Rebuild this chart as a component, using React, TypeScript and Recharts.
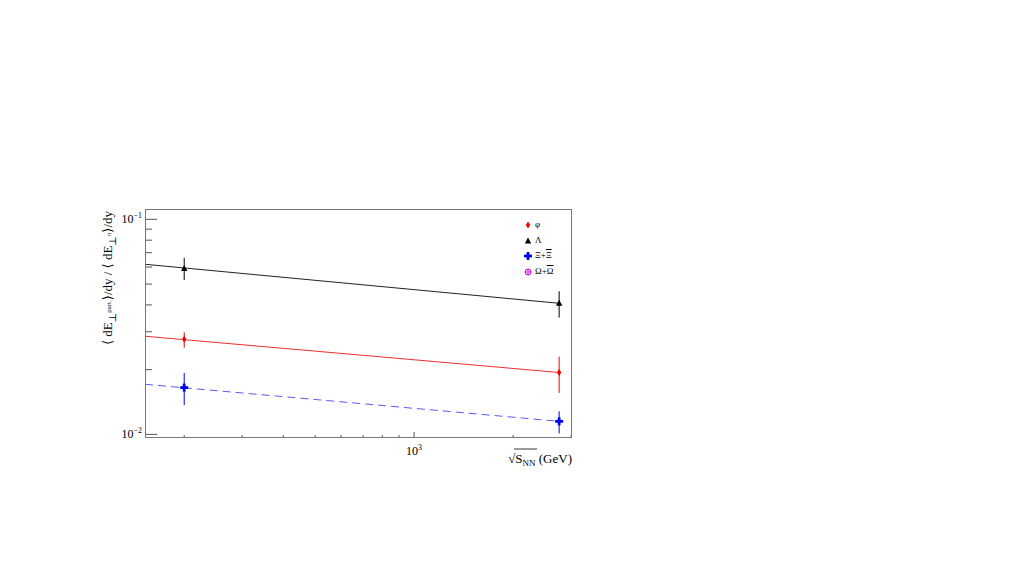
import React from "react"
import {
  ComposedChart,
  Scatter,
  XAxis,
  YAxis,
  ErrorBar,
} from "recharts"

// collision energies (GeV) of the measured points
const energies = [200, 2760]

// ratio values
const lambdaVals = [0.0591, 0.0407]
const lambdaErrUp = [0.0071, 0.0056]
const lambdaErrDown = [0.0069, 0.0058]

const phiVals = [0.0277, 0.0194]
const phiErrUp = [0.0021, 0.0036]
const phiErrDown = [0.0024, 0.0038]

const xiVals = [0.0165, 0.0115]
const xiErrUp = [0.0028, 0.0013]
const xiErrDown = [0.0028, 0.0014]

// power-law fit lines (end points)
const fitEnergies = [152, 2760]
const lambdaFit = [0.0618, 0.0407]
const phiFit = [0.0286, 0.0194]
const xiFit = [0.0171, 0.0115]

const xTicks = [200, 300, 400, 500, 600, 700, 800, 900, 1000, 2000, 3000]
const yTicks = [0.01, 0.02, 0.03, 0.04, 0.05, 0.06, 0.07, 0.08, 0.09, 0.1]

const legendItems = [
  { name: "φ", bar: "", color: "#ee0000", marker: "diamond" },
  { name: "Λ", bar: "", color: "#000000", marker: "triangle" },
  { name: "Ξ+", bar: "Ξ", color: "#0000ee", marker: "cross" },
  { name: "Ω+", bar: "Ω", color: "#dd00dd", marker: "circleplus" },
]

const points = (vals: number[], up: number[], down: number[]) =>
  energies.map((e, i) => ({ x: e, y: vals[i], err: [down[i], up[i]] }))

const fitLine = (vals: number[]) =>
  fitEnergies.map((e, i) => ({ x: e, y: vals[i] }))

const FONT = "Liberation Serif, DejaVu Serif, serif"

function Marker({ kind, cx, cy, color }: any) {
  if (kind === "diamond")
    return <polygon points={`${cx},${cy - 3.5} ${cx + 2.2},${cy} ${cx},${cy + 3.5} ${cx - 2.2},${cy}`} fill={color} />
  if (kind === "triangle")
    return <polygon points={`${cx},${cy - 3.5} ${cx + 3.2},${cy + 2.5} ${cx - 3.2},${cy + 2.5}`} fill={color} />
  if (kind === "cross")
    return (
      <g fill={color}>
        <rect x={cx - 4} y={cy - 1.4} width={8} height={2.8} />
        <rect x={cx - 1.4} y={cy - 4} width={2.8} height={8} />
      </g>
    )
  return (
    <g stroke={color} fill="none" strokeWidth={1}>
      <circle cx={cx} cy={cy} r={3} />
      <line x1={cx - 3} y1={cy} x2={cx + 3} y2={cy} />
      <line x1={cx} y1={cy - 3} x2={cx} y2={cy + 3} />
    </g>
  )
}

function XTick({ x, y, payload }: any) {
  const major = payload.value === 1000
  return (
    <g>
      <line x1={x} y1={y} x2={x} y2={y - (major ? 6 : 3)} stroke="#555" />
      {major && (
        <text x={x} y={y + 17} textAnchor="middle" fontFamily={FONT} fontSize={12} fill="#000">
          10<tspan dy={-5} fontSize={8}>3</tspan>
        </text>
      )}
    </g>
  )
}

function YTick({ x, y, payload }: any) {
  const v = payload.value
  const major = Math.abs(v - 0.1) < 1e-9 || Math.abs(v - 0.01) < 1e-9
  return (
    <g>
      <line x1={x} y1={y} x2={x + (major ? 12 : 7)} y2={y} stroke="#555" />
      {major && (
        <text x={x - 3} y={y + 4} textAnchor="end" fontFamily={FONT} fontSize={12} fill="#000">
          10<tspan dy={-5} fontSize={8}>{v > 0.05 ? "−1" : "−2"}</tspan>
        </text>
      )}
    </g>
  )
}

function LegendBox() {
  return (
    <div
      style={{
        position: "absolute",
        left: 523,
        top: 217,
        fontFamily: FONT,
        fontSize: 9,
        color: "#000",
        lineHeight: "15.7px",
      }}
    >
      {legendItems.map((item) => (
        <div key={item.name} style={{ display: "flex", alignItems: "center", height: 15.7 }}>
          <svg width={10} height={10} style={{ marginRight: 2 }}>
            <Marker kind={item.marker} cx={5} cy={5} color={item.color} />
          </svg>
          <span>
            {item.name}
            {item.bar && <span style={{ textDecoration: "overline" }}>{item.bar}</span>}
          </span>
        </div>
      ))}
    </div>
  )
}

export default function App() {
  return (
    <div style={{ position: "absolute", left: 0, top: 0, width: 1024, height: 576, background: "#fff" }}>
      <ComposedChart
        width={1024}
        height={576}
        margin={{ top: 209, right: 452, bottom: 108, left: 85 }}
      >
        <XAxis
          type="number"
          dataKey="x"
          scale="log"
          domain={[152, 3020]}
          ticks={xTicks}
          allowDataOverflow
          axisLine={false}
          tickLine={false}
          tickSize={0}
          tickMargin={0}
          height={30}
          tick={<XTick />}
          interval={0}
        />
        <YAxis
          type="number"
          dataKey="y"
          scale="log"
          domain={[0.00962, 0.1117]}
          ticks={yTicks}
          allowDataOverflow
          axisLine={false}
          tickLine={false}
          tickSize={0}
          tickMargin={0}
          width={60}
          tick={<YTick />}
          interval={0}
        />
        <Scatter data={fitLine(lambdaFit)} line={{ stroke: "#222", strokeWidth: 1 }} shape={() => null} isAnimationActive={false} legendType="none" />
        <Scatter data={fitLine(phiFit)} line={{ stroke: "#f03030", strokeWidth: 1 }} shape={() => null} isAnimationActive={false} legendType="none" />
        <Scatter data={fitLine(xiFit)} line={{ stroke: "#5a5af5", strokeWidth: 1, strokeDasharray: "8 5" }} shape={() => null} isAnimationActive={false} legendType="none" />

        <Scatter data={points(lambdaVals, lambdaErrUp, lambdaErrDown)} isAnimationActive={false} shape={(p: any) => <Marker kind="triangle" cx={p.cx} cy={p.cy} color="#000" />}>
          <ErrorBar dataKey="err" direction="y" width={0} stroke="#000" strokeWidth={1} />
        </Scatter>
        <Scatter data={points(phiVals, phiErrUp, phiErrDown)} isAnimationActive={false} shape={(p: any) => <Marker kind="diamond" cx={p.cx} cy={p.cy} color="#ee0000" />}>
          <ErrorBar dataKey="err" direction="y" width={0} stroke="#ee0000" strokeWidth={1} />
        </Scatter>
        <Scatter data={points(xiVals, xiErrUp, xiErrDown)} isAnimationActive={false} shape={(p: any) => <Marker kind="cross" cx={p.cx} cy={p.cy} color="#0000ee" />}>
          <ErrorBar dataKey="err" direction="y" width={0} stroke="#0000ee" strokeWidth={1} />
        </Scatter>

        {/* axis titles */}
        <text x={572} y={463} textAnchor="end" fontFamily={FONT} fontSize={13} fill="#000">
          <tspan>√</tspan>
          <tspan>S</tspan>
          <tspan dy={3} fontSize={9}>NN</tspan>
          <tspan dy={-3}> (GeV)</tspan>
        </text>
        <line x1={514} y1={449} x2={537} y2={449} stroke="#000" strokeWidth={0.8} />
        <text
          transform="translate(112,278) rotate(-90)"
          textAnchor="middle"
          fontFamily={FONT}
          fontSize={13}
          fill="#000"
        >
          <tspan>⟨ dE</tspan>
          <tspan dy={4} fontSize={10}>⊥</tspan>
          <tspan dy={-5} fontSize={7}>part.</tspan>
          <tspan dy={1} fontSize={13}>⟩/dy / ⟨ dE</tspan>
          <tspan dy={4} fontSize={10}>⊥</tspan>
          <tspan dy={-5} fontSize={7}>π</tspan>
          <tspan dy={1} fontSize={13}>⟩/dy</tspan>
        </text>
      </ComposedChart>
      <LegendBox />
      <div
        style={{
          position: "absolute",
          left: 145,
          top: 209,
          width: 427,
          height: 229,
          border: "1px solid #777",
          boxSizing: "border-box",
          pointerEvents: "none",
        }}
      />
    </div>
  )
}
